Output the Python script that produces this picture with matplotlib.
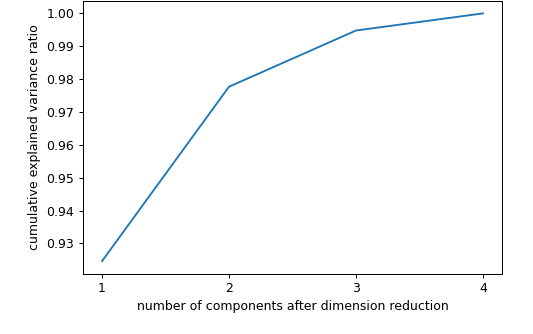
import numpy as np
import matplotlib.pyplot as plt

# cumulative explained variance of the PCA components
n_components = [1, 2, 3, 4]
cum_ratio = [0.92461872, 0.97768521, 0.99478782, 1.0]

fig = plt.figure(figsize=(533 / 90, 334 / 90), dpi=90)
ax = fig.add_axes([83 / 533, 60.5 / 334, 419 / 533, 272.5 / 334])

ax.plot(n_components, cum_ratio)
ax.set_xticks(n_components)
ax.set_xlabel('number of components after dimension reduction')
ax.set_ylabel('cumulative explained variance ratio')

fig.savefig('out.png', dpi=90)
